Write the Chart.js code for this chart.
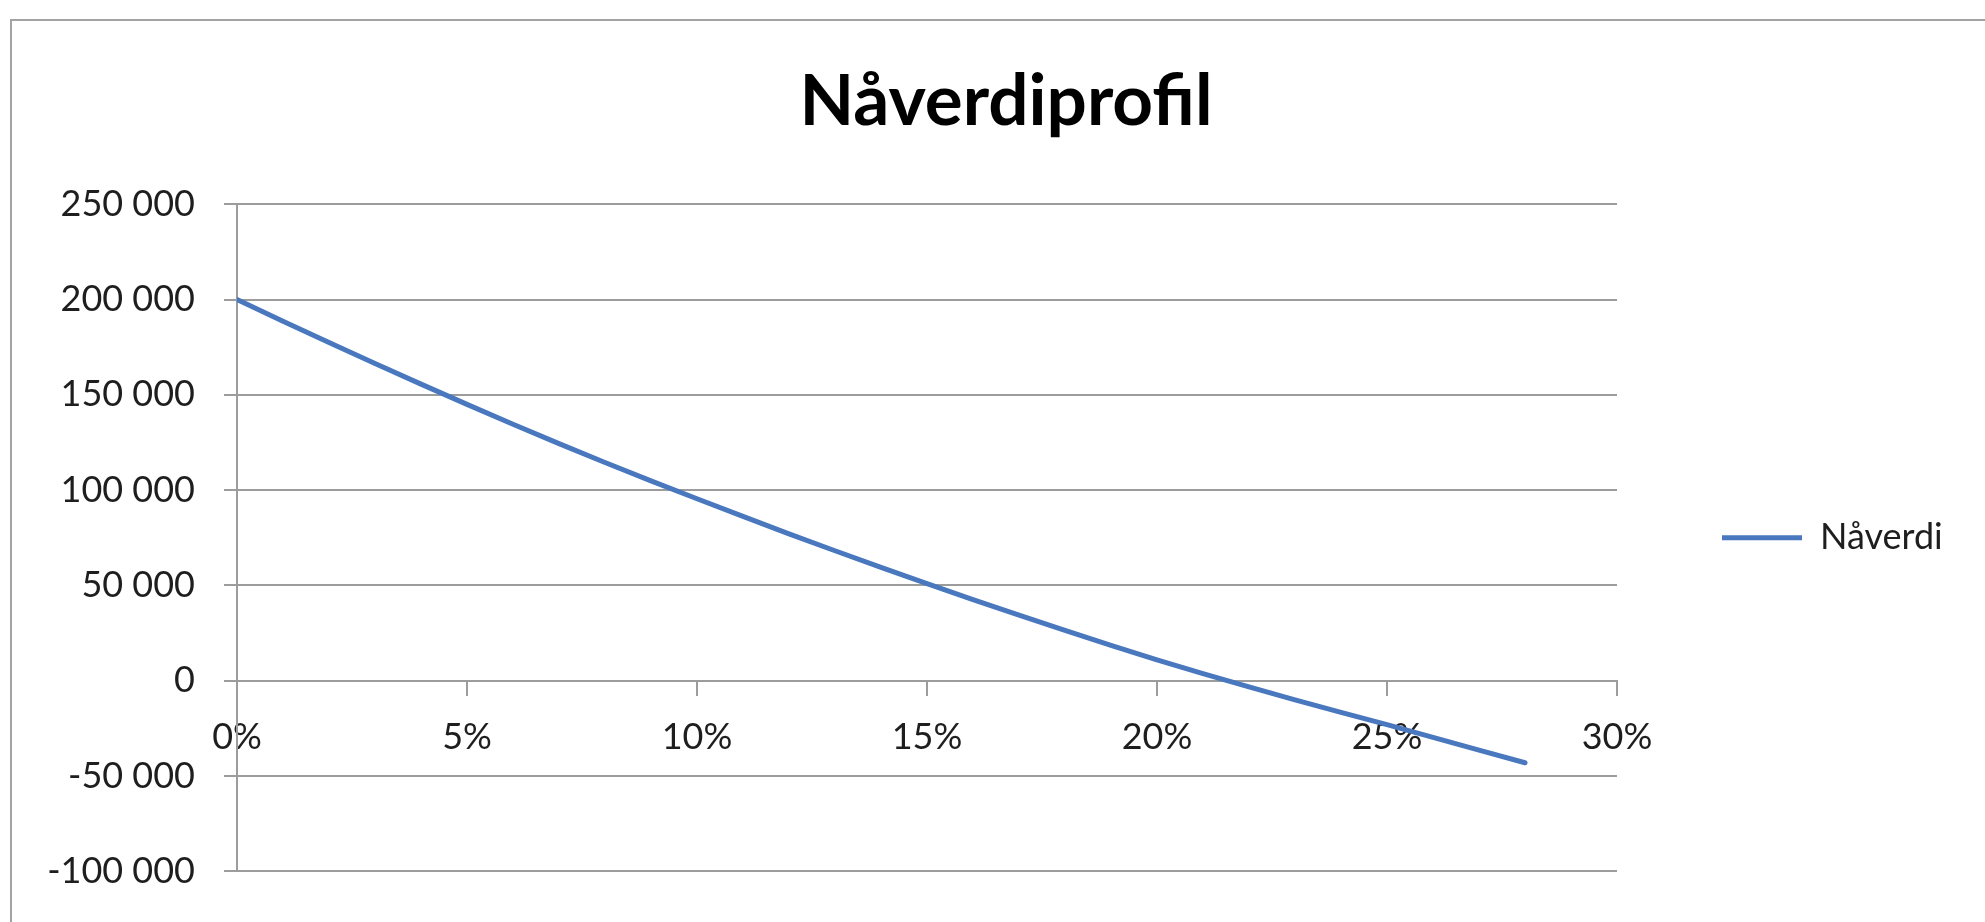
<!DOCTYPE html>
<html>
<head>
<meta charset="utf-8">
<script src="https://cdn.jsdelivr.net/npm/chart.js@4.4.0/dist/chart.umd.min.js"></script>
<style>
  html, body { margin: 0; padding: 0; background: #ffffff; overflow: hidden; width: 1985px; height: 922px; }
  #frame { position: absolute; left: 10px; top: 19px; width: 2100px; height: 1100px; border: 2px solid #a3a3a3; box-sizing: border-box; }
  #c { position: absolute; left: 0; top: 0; }
</style>
</head>
<body>
<div id="frame"></div>
<canvas id="c" width="1985" height="922"></canvas>
<script>
// Discount rate (%) and net present value
const rates = [0, 1, 2, 3, 4, 5, 6, 7, 8, 9, 10, 11, 12, 13, 14, 15, 16, 17, 18, 19, 20, 21, 22, 23, 24, 25, 26, 27, 28];
const npv = [200000, 188600, 177400, 166400, 155600, 145000, 134600, 124400, 114500, 104900,
             95500, 86200, 77100, 68200, 59500, 51000, 42600, 34400, 26400, 18600,
             11000, 3800, -3200, -10000, -16600, -23000, -29700, -36400, -43000];
const seriesName = 'Nåverdi';
const chartTitle = 'Nåverdiprofil';
const xTicks = [0, 5, 10, 15, 20, 25, 30];
const yTicks = [-100000, -50000, 0, 50000, 100000, 150000, 200000, 250000];

const points = rates.map((r, i) => ({ x: r, y: npv[i] }));
const fmt = v => (v < 0 ? '-' : '') + Math.abs(v).toString().replace(/\B(?=(\d{3})+(?!\d))/g, ' ');
const txt = '#1e1e1e';
const grid = '#9c9c9c';
const blue = '#4a78be';

new Chart(document.getElementById('c'), {
  type: 'line',
  data: {
    datasets: [{
      label: seriesName,
      data: points,
      borderColor: blue,
      backgroundColor: blue,
      borderWidth: 5,
      borderCapStyle: 'round',
      pointRadius: 0,
      tension: 0,
      fill: false
    }]
  },
  options: {
    responsive: false,
    animation: false,
    devicePixelRatio: 1,
    layout: { padding: { left: 65, right: 38, top: 20, bottom: 42 } },
    plugins: {
      title: {
        display: true,
        text: chartTitle,
        color: '#000000',
        font: { family: 'Lato', size: 71, weight: 'bold', lineHeight: 1.2 },
        padding: { top: 40, bottom: 59 }
      },
      legend: {
        display: true,
        position: 'right',
        fullSize: false,
        maxWidth: 330,
        labels: {
          usePointStyle: true,
          pointStyle: 'line',
          pointStyleWidth: 80,
          boxHeight: 36,
          padding: 105,
          color: txt,
          font: { family: 'Lato', size: 36 }
        }
      },
      tooltip: { enabled: false }
    },
    scales: {
      x: {
        type: 'linear',
        position: { y: 0 },
        min: 0,
        max: 30,
        afterBuildTicks: s => { s.ticks = xTicks.map(v => ({ value: v })); },
        ticks: {
          color: txt,
          font: { family: 'Lato', size: 36 },
          padding: 21,
          maxRotation: 0,
          callback: v => v + '%'
        },
        grid: { drawOnChartArea: false, drawTicks: true, tickLength: 14, color: grid, lineWidth: 2 },
        border: { display: true, color: grid, width: 2 }
      },
      y: {
        type: 'linear',
        min: -100000,
        max: 250000,
        afterBuildTicks: s => { s.ticks = yTicks.map(v => ({ value: v })); },
        afterFit: s => { s.width = 172; s._computeLabelArea = () => undefined; },
        ticks: {
          color: txt,
          font: { family: 'Lato', size: 36 },
          padding: 29,
          callback: v => fmt(v)
        },
        grid: { drawOnChartArea: true, drawTicks: true, tickLength: 13, color: grid, lineWidth: 2 },
        border: { display: true, color: grid, width: 2 }
      }
    }
  }
});
</script>
</body>
</html>
